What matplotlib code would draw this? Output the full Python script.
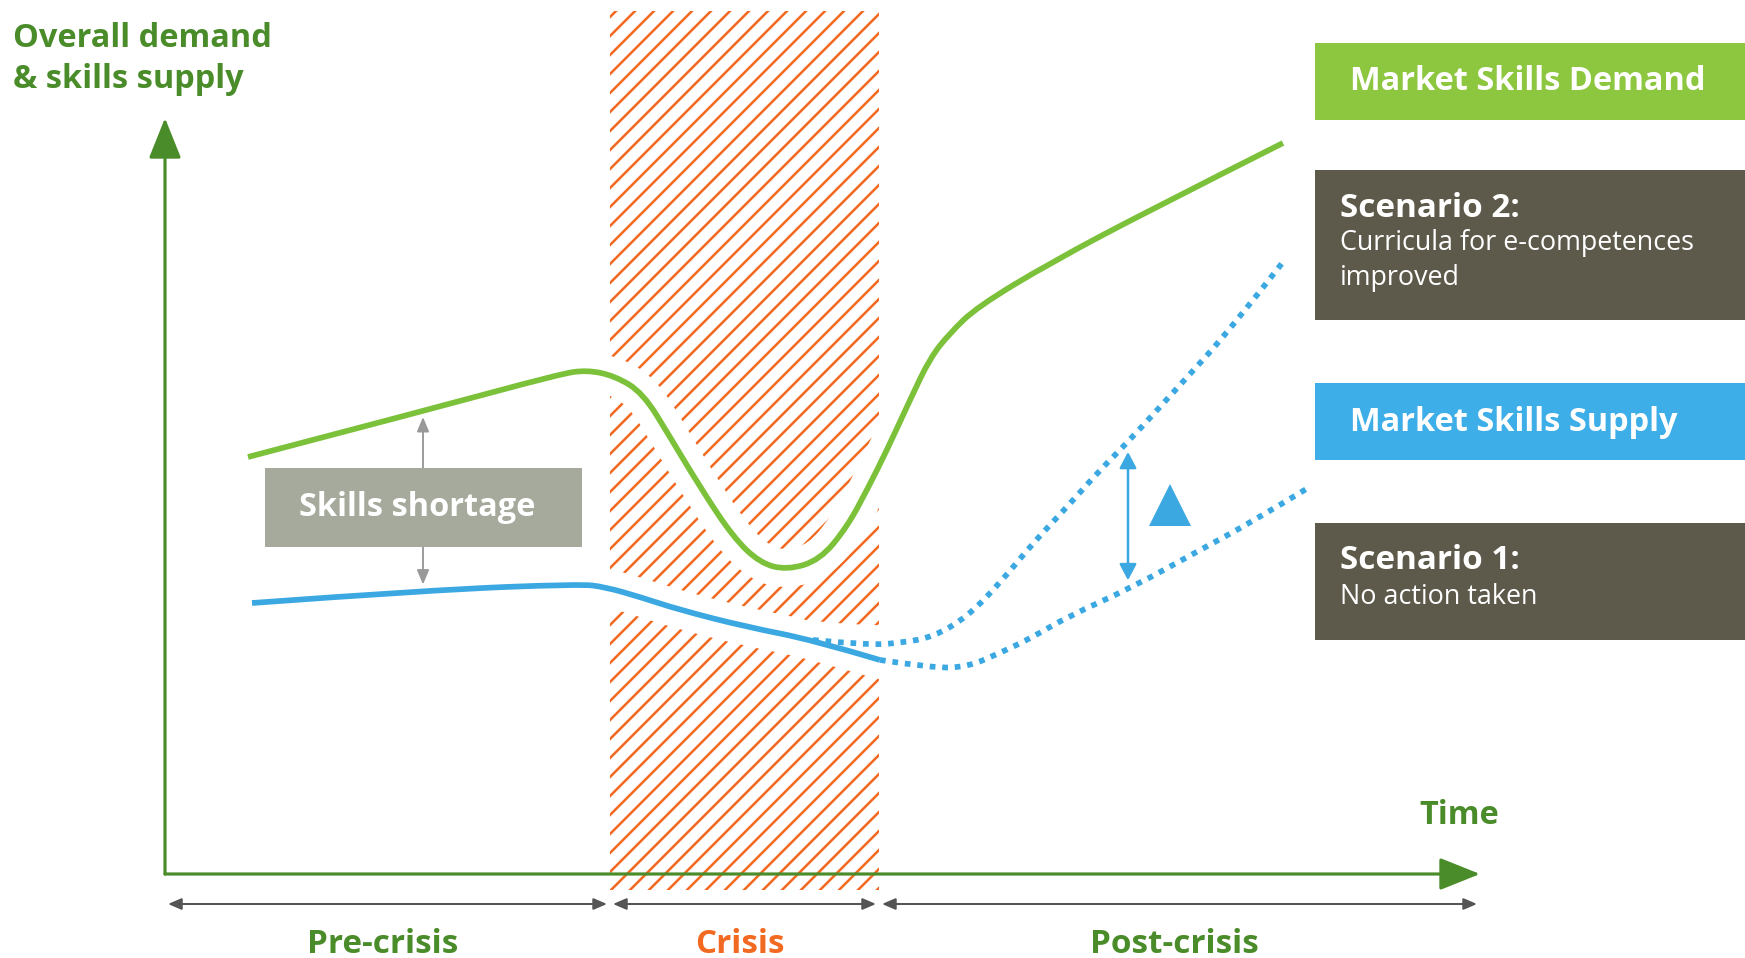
"""
Concept chart: market skills demand vs. supply before, during and after a crisis,
with two post-crisis supply scenarios.
"""

import numpy as np
import matplotlib
matplotlib.use("Agg")  # no display, write straight to file
import matplotlib.pyplot as plt
from matplotlib.patches import Rectangle, PathPatch
from matplotlib.path import Path

# ---------------------------------------------------------------
# DATA (time units along x, level along y, origin at the axes corner)
# ---------------------------------------------------------------
phase_names = ['Pre-crisis', 'Crisis', 'Post-crisis']
phase_edges = [0, 44.5, 71.4, 131.5]

demand_t = [8.3, 26.2, 39.5, 42.2, 45.0, 47.8, 50.5, 53.5, 56.8, 59.5, 62.2,
            65.5, 68.2, 70.2, 72.2, 74.5, 76.5, 78.5, 81.2, 88.5, 98.5, 111.8]
demand_v = [41.7, 46.4, 50.0, 50.4, 49.8, 48.1, 43.7, 38.7, 33.7, 31.1, 30.4,
            31.4, 34.7, 38.4, 42.4, 47.4, 51.6, 54.1, 56.7, 61.1, 66.4, 73.1]

supply_t = [8.7, 26.5, 41.5, 44.0, 47.5, 51.5, 58.2, 64.8, 71.5]
supply_v = [27.1, 28.4, 29.0, 28.7, 27.7, 26.4, 24.7, 23.4, 21.4]

# scenario 1: no action taken
scen1_t = [71.5, 76.8, 80.2, 83.5, 86.8, 90.2, 96.8, 103.5, 108.5, 114.3]
scen1_v = [21.4, 20.6, 20.7, 22.1, 23.7, 25.7, 28.7, 32.4, 35.1, 38.6]

# scenario 2: curricula for e-competences improved
scen2_t = [64.8, 70.2, 73.5, 76.8, 80.2, 83.5, 86.8, 90.2, 93.5, 96.2, 101.5, 106.5, 111.8]
scen2_v = [23.4, 22.9, 23.1, 23.7, 25.7, 29.1, 33.1, 36.7, 40.4, 43.1, 48.9, 54.4, 61.2]

shortage_t = 25.8   # where the "skills shortage" gap is marked
delta_t = 96.3      # where the scenario gap is marked

# ---------------------------------------------------------------
# STYLE
# ---------------------------------------------------------------
plt.rcParams['font.family'] = ['Open Sans', 'DejaVu Sans']
plt.rcParams['hatch.linewidth'] = 1.6

AXIS_GREEN = '#4a8c2a'
LINE_GREEN = '#7cc13a'
BOX_GREEN = '#8dc63f'
BLUE = '#3ba8e2'
BOX_BLUE = '#3eaee8'
DARK = '#5e5a4b'
GREY_BOX = '#a6aa9d'
ORANGE = '#f26a22'


def smooth_path(xs, ys):
    # quadratic bezier through midpoints, so the read points give a smooth line
    pts = np.column_stack([xs, ys])
    verts = [pts[0]]
    codes = [Path.MOVETO]
    n = len(pts)
    for i in range(1, n - 1):
        end = pts[i + 1] if i == n - 2 else (pts[i] + pts[i + 1]) / 2
        verts += [pts[i], end]
        codes += [Path.CURVE3, Path.CURVE3]
    return Path(verts, codes)


fig = plt.figure(figsize=(1745 / 114, 958 / 114), dpi=114)
ax = fig.add_axes([0, 0, 1, 1])
ax.set_xlim(-16.5, 158)
ax.set_ylim(-8.4, 87.4)
ax.axis('off')

# ---------------------------------------------------------------
# CRISIS BAND (hatched)
# ---------------------------------------------------------------
ax.add_patch(Rectangle((phase_edges[1], -1.6), phase_edges[2] - phase_edges[1], 87.9,
                       facecolor='none', edgecolor=ORANGE, lw=0, hatch='//', zorder=1))

# ---------------------------------------------------------------
# CURVES (white halo underneath cuts the hatch)
# ---------------------------------------------------------------
curves = [
    (demand_t, demand_v, LINE_GREEN, '-'),
    (supply_t, supply_v, BLUE, '-'),
    (scen2_t, scen2_v, BLUE, (0, (1, 1.2))),
    (scen1_t, scen1_v, BLUE, (0, (1, 1.2))),
]
for t, v, col, ls in curves:
    ax.add_patch(PathPatch(smooth_path(t, v), fill=False, edgecolor='white',
                           lw=24, zorder=2))
for t, v, col, ls in curves:
    ax.add_patch(PathPatch(smooth_path(t, v), fill=False, edgecolor=col,
                           lw=3.6, linestyle=ls, capstyle='butt', zorder=4))

# ---------------------------------------------------------------
# AXES WITH ARROWS
# ---------------------------------------------------------------
axis_arrow = dict(arrowstyle='-|>,head_length=2.2,head_width=0.88', mutation_scale=10,
                  color=AXIS_GREEN, lw=2, shrinkA=0, shrinkB=0)
ax.annotate('', xy=(0, 75.6), xytext=(0, 0), arrowprops=axis_arrow, zorder=5)
ax.annotate('', xy=(phase_edges[-1], 0), xytext=(0, 0), arrowprops=axis_arrow, zorder=5)

ax.text(-15.2, 83.6, 'Overall demand', color=AXIS_GREEN, fontsize=20.5,
        fontweight='bold', va='center', ha='left')
ax.text(-15.2, 79.5, '& skills supply', color=AXIS_GREEN, fontsize=20.5,
        fontweight='bold', va='center', ha='left')
ax.text(129.4, 5.9, 'Time', color=AXIS_GREEN, fontsize=20.5, fontweight='bold',
        va='center', ha='center')

# ---------------------------------------------------------------
# PHASES BELOW THE TIME AXIS
# ---------------------------------------------------------------
phase_colors = [AXIS_GREEN, ORANGE, AXIS_GREEN]
for i, name in enumerate(phase_names):
    a, b = phase_edges[i], phase_edges[i + 1]
    ax.annotate('', xy=(b - 0.3, -3.0), xytext=(a + 0.3, -3.0),
                arrowprops=dict(arrowstyle='<|-|>,head_length=0.7,head_width=0.3',
                                mutation_scale=10, color='#555555', lw=1.3,
                                shrinkA=0, shrinkB=0))
    ax.text((a + b) / 2 - 0.5, -7.0, name, color=phase_colors[i], fontsize=21,
            fontweight='bold', ha='center', va='center')

# ---------------------------------------------------------------
# SKILLS SHORTAGE MARKER
# ---------------------------------------------------------------
top = np.interp(shortage_t, demand_t, demand_v)
bottom = np.interp(shortage_t, supply_t, supply_v)
ax.annotate('', xy=(shortage_t, top - 0.6), xytext=(shortage_t, bottom + 0.6),
            arrowprops=dict(arrowstyle='<|-|>,head_length=0.76,head_width=0.32',
                            mutation_scale=10, color='#999999', lw=1.2,
                            shrinkA=0, shrinkB=0), zorder=3)
ax.add_patch(Rectangle((10.0, 32.7), 31.7, 7.9, facecolor=GREY_BOX, edgecolor='none', zorder=5))
ax.text(25.2, 36.7, 'Skills shortage', color='white', fontsize=20.5, fontweight='bold',
        ha='center', va='center', zorder=6)

# ---------------------------------------------------------------
# SCENARIO GAP MARKER
# ---------------------------------------------------------------
top = np.interp(delta_t, scen2_t, scen2_v)
bottom = np.interp(delta_t, scen1_t, scen1_v)
ax.annotate('', xy=(delta_t, top - 1.0), xytext=(delta_t, bottom + 0.9),
            arrowprops=dict(arrowstyle='<|-|>,head_length=0.85,head_width=0.45',
                            mutation_scale=10, color=BLUE, lw=1.6,
                            shrinkA=0, shrinkB=0), zorder=5)
ax.plot([delta_t + 4.2], [36.9], marker='^', markersize=27, color=BLUE,
        markeredgewidth=0, zorder=5)

# ---------------------------------------------------------------
# LEGEND BOXES ON THE RIGHT
# ---------------------------------------------------------------
ax.add_patch(Rectangle((115, 75.4), 45, 7.7, facecolor=BOX_GREEN, edgecolor='none', zorder=5))
ax.text(118.5, 79.25, 'Market Skills Demand', color='white', fontsize=20.5,
        fontweight='bold', va='center', ha='left', zorder=6)

ax.add_patch(Rectangle((115, 55.4), 45, 15.0, facecolor=DARK, edgecolor='none', zorder=5))
ax.text(117.5, 66.6, 'Scenario 2:', color='white', fontsize=21,
        fontweight='bold', va='center', ha='left', zorder=6)
ax.text(117.5, 63.1, 'Curricula for e-competences', color='white', fontsize=17,
        va='center', ha='left', zorder=6)
ax.text(117.5, 59.6, 'improved', color='white', fontsize=17,
        va='center', ha='left', zorder=6)

ax.add_patch(Rectangle((115, 41.4), 45, 7.7, facecolor=BOX_BLUE, edgecolor='none', zorder=5))
ax.text(118.5, 45.2, 'Market Skills Supply', color='white', fontsize=20.5,
        fontweight='bold', va='center', ha='left', zorder=6)

ax.add_patch(Rectangle((115, 23.4), 45, 11.7, facecolor=DARK, edgecolor='none', zorder=5))
ax.text(117.5, 31.4, 'Scenario 1:', color='white', fontsize=21,
        fontweight='bold', va='center', ha='left', zorder=6)
ax.text(117.5, 27.7, 'No action taken', color='white', fontsize=17,
        va='center', ha='left', zorder=6)

plt.savefig('out.png', dpi=114)
plt.close()
